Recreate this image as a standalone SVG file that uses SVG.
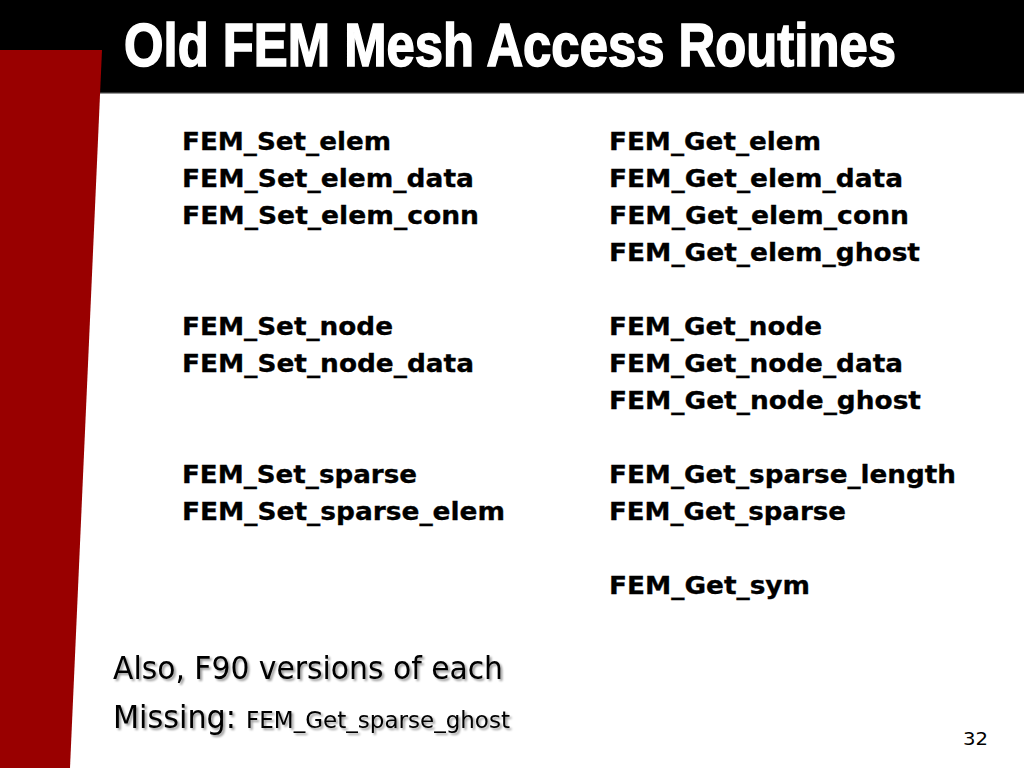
<svg xmlns="http://www.w3.org/2000/svg" width="1024" height="768" viewBox="0 0 1024 768">
  <defs>
    <style>
      .title { font-family: "Liberation Sans Narrow", "Liberation Sans", Arial, sans-serif; font-weight: bold; font-size: 62px; fill: #ffffff; stroke: #ffffff; stroke-width: 1.6px; }
      .fn { font-family: "DejaVu Sans", Verdana, sans-serif; font-weight: bold; font-size: 24px; fill: #000000; stroke: #000000; stroke-width: 0.3px; }
      .note { font-family: "DejaVu Sans", Verdana, sans-serif; fill: #000000; }
      .pg { font-family: "DejaVu Sans", Verdana, sans-serif; font-size: 18px; fill: #000000; }
    </style>
    <filter id="shadow" x="-5%" y="-20%" width="110%" height="150%">
      <feGaussianBlur in="SourceAlpha" stdDeviation="0.8" result="b"/>
      <feOffset in="b" dx="2" dy="2" result="o"/>
      <feComponentTransfer in="o" result="s"><feFuncA type="linear" slope="0.4"/></feComponentTransfer>
      <feMerge><feMergeNode in="s"/><feMergeNode in="SourceGraphic"/></feMerge>
    </filter>
  </defs>

  <rect x="0" y="0" width="1024" height="768" fill="#ffffff"/>
  <rect x="0" y="0" width="1024" height="93" fill="#000000"/>
  <rect x="0" y="92" width="1024" height="1.5" fill="#333333"/>
  <polygon points="0,50 102,50 70,768 0,768" fill="#990000"/>

  <text class="title" x="124" y="66" textLength="772" lengthAdjust="spacingAndGlyphs">Old FEM Mesh Access Routines</text>

  <g id="set-column">
    <text class="fn" x="182" y="150" textLength="209" lengthAdjust="spacingAndGlyphs">FEM_Set_elem</text>
    <text class="fn" x="182" y="187" textLength="292" lengthAdjust="spacingAndGlyphs">FEM_Set_elem_data</text>
    <text class="fn" x="182" y="224" textLength="297" lengthAdjust="spacingAndGlyphs">FEM_Set_elem_conn</text>
    <text class="fn" x="182" y="335" textLength="211" lengthAdjust="spacingAndGlyphs">FEM_Set_node</text>
    <text class="fn" x="182" y="372" textLength="292" lengthAdjust="spacingAndGlyphs">FEM_Set_node_data</text>
    <text class="fn" x="182" y="483" textLength="235" lengthAdjust="spacingAndGlyphs">FEM_Set_sparse</text>
    <text class="fn" x="182" y="520" textLength="323" lengthAdjust="spacingAndGlyphs">FEM_Set_sparse_elem</text>
  </g>

  <g id="get-column">
    <text class="fn" x="609" y="150" textLength="212" lengthAdjust="spacingAndGlyphs">FEM_Get_elem</text>
    <text class="fn" x="609" y="187" textLength="294" lengthAdjust="spacingAndGlyphs">FEM_Get_elem_data</text>
    <text class="fn" x="609" y="224" textLength="300" lengthAdjust="spacingAndGlyphs">FEM_Get_elem_conn</text>
    <text class="fn" x="609" y="261" textLength="311" lengthAdjust="spacingAndGlyphs">FEM_Get_elem_ghost</text>
    <text class="fn" x="609" y="335" textLength="213" lengthAdjust="spacingAndGlyphs">FEM_Get_node</text>
    <text class="fn" x="609" y="372" textLength="294" lengthAdjust="spacingAndGlyphs">FEM_Get_node_data</text>
    <text class="fn" x="609" y="409" textLength="312" lengthAdjust="spacingAndGlyphs">FEM_Get_node_ghost</text>
    <text class="fn" x="609" y="483" textLength="347" lengthAdjust="spacingAndGlyphs">FEM_Get_sparse_length</text>
    <text class="fn" x="609" y="520" textLength="237" lengthAdjust="spacingAndGlyphs">FEM_Get_sparse</text>
    <text class="fn" x="609" y="594" textLength="201" lengthAdjust="spacingAndGlyphs">FEM_Get_sym</text>
  </g>

  <g id="notes" filter="url(#shadow)">
    <text class="note" x="113" y="679" font-size="32" textLength="390" lengthAdjust="spacingAndGlyphs">Also, F90 versions of each</text>
    <text class="note" x="113" y="728" font-size="32" textLength="123" lengthAdjust="spacingAndGlyphs">Missing:</text>
    <text class="note" x="246" y="728" font-size="23" textLength="264" lengthAdjust="spacingAndGlyphs">FEM_Get_sparse_ghost</text>
  </g>

  <text class="pg" x="963" y="745" textLength="25" lengthAdjust="spacingAndGlyphs">32</text>
</svg>
